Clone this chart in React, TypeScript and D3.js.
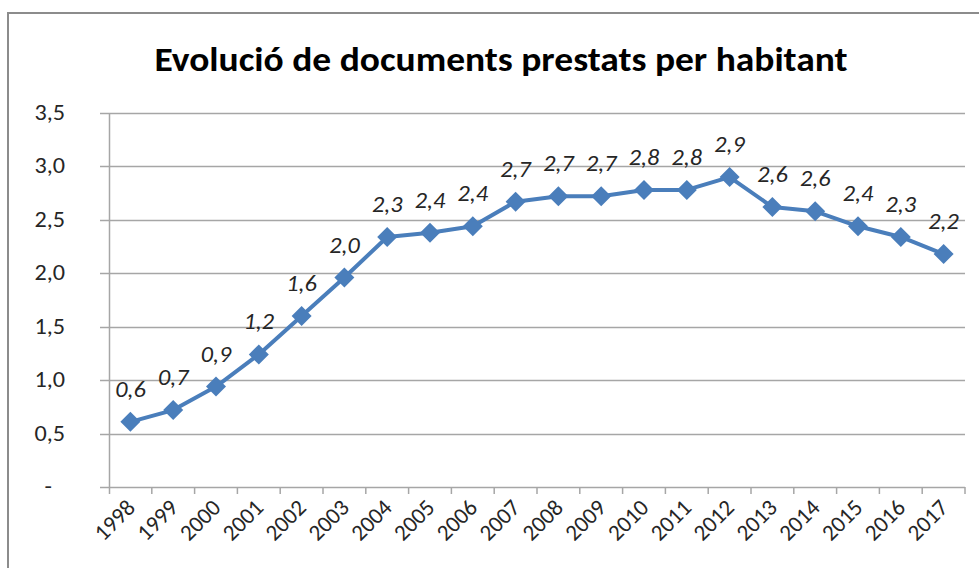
import React, { useEffect, useRef } from 'react'
import * as d3 from 'd3'

const years = ['1998', '1999', '2000', '2001', '2002', '2003', '2004', '2005', '2006', '2007',
  '2008', '2009', '2010', '2011', '2012', '2013', '2014', '2015', '2016', '2017']
const values = [0.61, 0.72, 0.94, 1.24, 1.6, 1.96, 2.34, 2.38, 2.44, 2.67,
  2.72, 2.72, 2.78, 2.78, 2.9, 2.62, 2.58, 2.44, 2.34, 2.18]
const yTicks = [0, 0.5, 1, 1.5, 2, 2.5, 3, 3.5]
const title = 'Evolució de documents prestats per habitant'

const FONT = 'Carlito, Lato, "Open Sans", sans-serif'
const BLUE = '#4a7ebb'
const TXT = '#262626'
const STRETCH = 1.1 // the original text is a bit wider than Carlito

const fmt = (v: number) => v === 0 ? '-' : v.toFixed(1).replace('.', ',')

function App() {
  const ref = useRef<SVGSVGElement>(null)

  useEffect(() => {
    const width = 979
    const height = 568
    const margin = { top: 113, right: 14, bottom: 81, left: 109 }

    const svg = d3.select(ref.current)
    svg.selectAll('*').remove()
    svg.attr('width', width).attr('height', height)

    // outer chart border
    svg.append('rect')
      .attr('x', 8).attr('y', 13)
      .attr('width', width + 10).attr('height', height + 10)
      .attr('fill', '#fff')
      .attr('stroke', '#8c8c8c')
      .attr('stroke-width', 2)

    svg.append('text')
      .attr('x', 501).attr('y', 71)
      .attr('text-anchor', 'middle')
      .attr('font-family', FONT)
      .attr('font-weight', 'bold')
      .attr('font-size', 35)
      .attr('textLength', 693)
      .attr('lengthAdjust', 'spacingAndGlyphs')
      .attr('fill', '#000')
      .text(title)

    const x = d3.scaleBand()
      .domain(years)
      .range([margin.left, width - margin.right])
      .padding(0)

    const y = d3.scaleLinear()
      .domain([0, 3.5])
      .range([height - margin.bottom, margin.top])

    const cx = (d: string) => (x(d) as number) + x.bandwidth() / 2

    // grid lines
    svg.append('g')
      .selectAll('line')
      .data(yTicks)
      .join('line')
      .attr('x1', margin.left - 9)
      .attr('x2', width - margin.right)
      .attr('y1', d => Math.round(y(d)) + 0.5)
      .attr('y2', d => Math.round(y(d)) + 0.5)
      .attr('stroke', '#a6a6a6')
      .attr('stroke-width', 1.5)

    // y axis line
    svg.append('line')
      .attr('x1', margin.left + 0.5).attr('x2', margin.left + 0.5)
      .attr('y1', y(3.5)).attr('y2', y(0) + 7)
      .attr('stroke', '#a6a6a6')
      .attr('stroke-width', 1.5)

    // x tick marks at category boundaries
    const bounds = years.map(d => x(d) as number).concat([width - margin.right])
    svg.append('g')
      .selectAll('line')
      .data(bounds.slice(1))
      .join('line')
      .attr('x1', d => d).attr('x2', d => d)
      .attr('y1', y(0)).attr('y2', y(0) + 7)
      .attr('stroke', '#a6a6a6')
      .attr('stroke-width', 1.5)

    // y labels
    svg.append('g')
      .selectAll('text')
      .data(yTicks)
      .join('text')
      .attr('transform', d => `translate(${d === 0 ? 52 : 65},${y(d) + 7}) scale(${STRETCH},1)`)
      .attr('text-anchor', 'end')
      .attr('font-family', FONT)
      .attr('font-size', 22)
      .attr('fill', TXT)
      .text(d => fmt(d))

    // x labels, rotated
    svg.append('g')
      .selectAll('text')
      .data(years)
      .join('text')
      .attr('transform', d => `translate(${cx(d) + 6},${y(0) + 22}) rotate(-45)`)
      .attr('text-anchor', 'end')
      .attr('font-family', FONT)
      .attr('font-size', 23)
      .attr('fill', TXT)
      .text(d => d)

    const line = d3.line<number>()
      .x((_, i) => cx(years[i]))
      .y(d => y(d))

    svg.append('path')
      .datum(values)
      .attr('d', line)
      .attr('fill', 'none')
      .attr('stroke', BLUE)
      .attr('stroke-width', 4)
      .attr('stroke-linejoin', 'round')

    const diamond = d3.symbol().type(d3.symbolSquare).size(200)
    svg.append('g')
      .selectAll('path')
      .data(values)
      .join('path')
      .attr('d', diamond)
      .attr('transform', (d, i) => `translate(${cx(years[i])},${y(d)}) rotate(45)`)
      .attr('fill', BLUE)

    // data labels
    svg.append('g')
      .selectAll('text')
      .data(values)
      .join('text')
      .attr('transform', (d, i) => `translate(${cx(years[i])},${y(d) - 25}) scale(${STRETCH},1)`)
      .attr('text-anchor', 'middle')
      .attr('font-family', FONT)
      .attr('font-style', 'italic')
      .attr('font-size', 22)
      .attr('fill', TXT)
      .text(d => fmt(d))
  }, [])

  return (
    <svg ref={ref} style={{ position: 'absolute', left: 0, top: 0, display: 'block' }}></svg>
  )
}

export default App
